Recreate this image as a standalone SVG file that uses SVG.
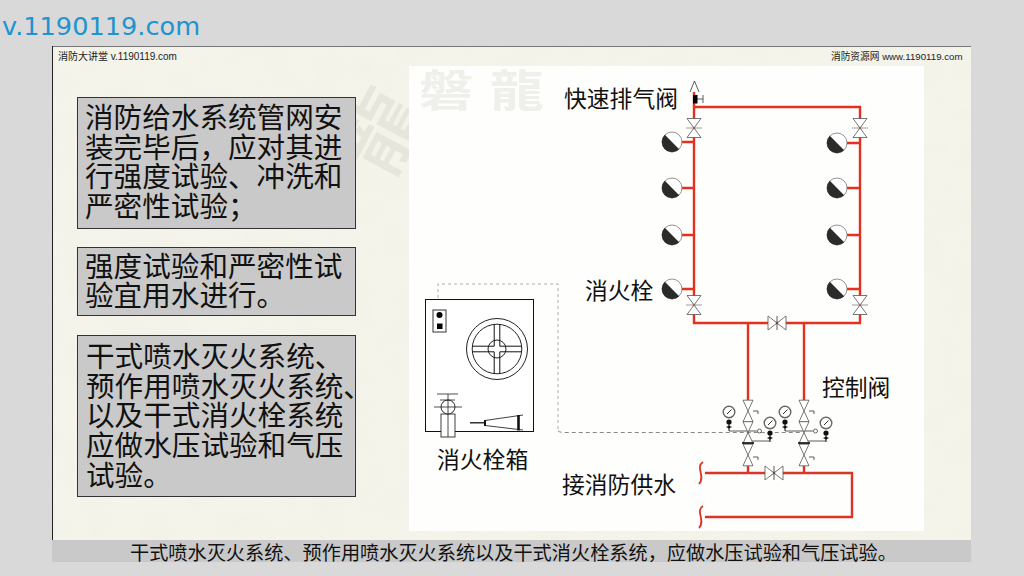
<svg xmlns="http://www.w3.org/2000/svg" width="1024" height="576" viewBox="0 0 1024 576">
<style>
text{font-family:"Liberation Sans","Noto Sans CJK SC",sans-serif;fill:#111}
.cjk{font-family:"Noto Sans CJK SC",sans-serif}
.box{fill:#c9c9c9;stroke:#333;stroke-width:1}
.t{font-size:28.6px}
.lab{font-size:22.8px}
.hdr{font-size:10px;fill:#222}
.pipe{fill:none;stroke:#e4301f;stroke-width:2.400}
.thin{fill:none;stroke:#333;stroke-width:.8}
.line{fill:none;stroke:#222;stroke-width:1}
.v{fill:#fff;stroke:#555;stroke-width:.8}
.dash{fill:none;stroke:#999;stroke-width:.8;stroke-dasharray:3 3}
.dash2{fill:none;stroke:#555;stroke-width:.7;stroke-dasharray:4 3}
.wm{font-family:"Noto Sans CJK SC",sans-serif;font-weight:700;fill:#efefec}
</style>
<defs>
<filter id="paper" x="0" y="0" width="100%" height="100%"><feTurbulence type="fractalNoise" baseFrequency="0.035" numOctaves="3" seed="4"/><feColorMatrix values="0 0 0 0 .8  0 0 0 0 .8  0 0 0 0 .74  .28 0 0 0 -.09"/><feComposite in2="SourceGraphic" operator="in"/><feMerge><feMergeNode in="SourceGraphic"/><feMergeNode/></feMerge></filter>
<g id="hyd"><circle r="10" fill="#fff" stroke="#777" stroke-width=".8"/><path d="M-7.200-7.200A10 10 0 1 0 7.200 7.200Z" fill="#2b2b2b"/></g>
<g id="vv"><path class="v" d="M-7-9.500H7L-7 9.500H7Z"/><path d="M-8 0H8" stroke="#888" stroke-width=".8"/></g>
<g id="vs"><path class="v" d="M-5-10.800H5L-5 10.800H5Z"/></g>
<g id="vh"><path class="v" d="M-9-7V7L9-7V7Z"/><path class="thin" d="M0-7V7"/></g>
<g id="g"><circle r="5.800" fill="#fff" stroke="#666" stroke-width="1.400"/><path d="M-2 2L2.500-2.500" stroke="#333" stroke-width="1"/></g>
<g id="dots"><circle r="2.600" fill="#111"/><circle cy="5" r="1.500" fill="#111"/><path d="M0 2V9M-2.500 5H2.500" stroke="#111" stroke-width="1"/></g>
<clipPath id="wmclip"><rect x="345" y="66" width="64" height="112"/></clipPath>
</defs>
<rect width="1024" height="576" fill="#d9d9d9"/>
<text x="2" y="34.500" style="font-family:'DejaVu Sans',sans-serif;font-size:25.600px;fill:#2193d0">v.1190119.com</text>
<g id="slide">
<rect x="52" y="46" width="919" height="516" fill="#f4f4eb" filter="url(#paper)"/>
<path d="M52 46.500H971" stroke="#777" stroke-width="1"/>
<path d="M52.500 46V562" stroke="#222" stroke-width="1"/>
<g clip-path="url(#wmclip)"><text class="wm" font-size="80" transform="rotate(-62 385 125)" x="338" y="155" style="fill:#e6e6dd;font-weight:500">龍</text></g>
<rect x="409" y="66" width="515" height="465" fill="#fefefc"/>
<text class="wm" font-size="54" transform="translate(419 107) scale(1 .82)">磐</text>
<text class="wm" font-size="54" transform="translate(490 107) scale(1 .82)">龍</text>
<rect x="52" y="540" width="919" height="22" fill="#c9c9c9"/>
<text class="hdr" x="58" y="59.500">消防大讲堂 v.1190119.com</text>
<text class="hdr" x="831" y="60" style="font-size:9.700px">消防资源网 www.1190119.com</text>
<text class="cjk" x="130" y="559.500" font-size="19.180">干式喷水灭火系统、预作用喷水灭火系统以及干式消火栓系统，应做水压试验和气压试验。</text>
</g>
<g id="note1"><rect class="box" x="77.500" y="97.500" width="278" height="131"/>
<text class="cjk t" x="85"><tspan x="85" y="128">消防给水系统管网安</tspan><tspan x="85" y="158">装完毕后，应对其进</tspan><tspan x="85" y="187">行强度试验、冲洗和</tspan><tspan x="85" y="217">严密性试验；</tspan></text></g>
<g id="note2"><rect class="box" x="77.500" y="247.500" width="278" height="68"/>
<text class="cjk t" x="85"><tspan x="85" y="277">强度试验和严密性试</tspan><tspan x="85" y="306">验宜用水进行。</tspan></text></g>
<g id="note3"><rect class="box" x="77.500" y="335.500" width="278" height="161"/>
<text class="cjk t" x="86"><tspan x="86" y="367">干式喷水灭火系统、</tspan><tspan x="86" y="397">预作用喷水灭火系统、</tspan><tspan x="86" y="426">以及干式消火栓系统</tspan><tspan x="86" y="456">应做水压试验和气压</tspan><tspan x="86" y="486">试验。</tspan></text></g>
<g id="connectors">
<path class="pipe" d="M694 92V323H860V107H694"/>
<path class="pipe" d="M748 323V400M804 323V400M748 466V473M804 466V473"/>
<path class="pipe" d="M705 473H852V517H705" style="stroke:#dc3526"/>
<path class="pipe" d="M681 142H694M681 188H694M681 235H694M681 289H694M847 143H860M847 188H860M847 235H860M847 289H860"/>
<path class="dash" d="M438 310V284H558V431"/>
<path class="dash2" d="M558 431Q560 432.500 565 432.500H800"/>
<path class="thin" d="M729 431H757M770 441H748M785 431H813M826 441H804"/>
</g>
<g id="air-valve"><path class="thin" d="M690 92L694.500 81L699 92M697 99H703M703 95V103"/><rect x="693" y="95" width="4.500" height="8.500" fill="#000"/></g>
<g id="hydrants-left"><use href="#hyd" x="672" y="142"/><use href="#hyd" x="672" y="188"/><use href="#hyd" x="672" y="235"/><use href="#hyd" x="672" y="289"/></g>
<g id="hydrants-right"><use href="#hyd" x="837" y="143"/><use href="#hyd" x="837" y="188"/><use href="#hyd" x="837" y="235"/><use href="#hyd" x="837" y="289"/></g>
<g id="valves"><use href="#vv" x="694" y="128"/><use href="#vv" x="860" y="128"/><use href="#vv" x="694" y="305"/><use href="#vv" x="860" y="305"/><use href="#vh" x="777" y="323"/><use href="#vh" x="774" y="473"/></g>
<g id="control-left"><use href="#vs" x="748" y="411"/><use href="#vs" x="748" y="432.500"/><use href="#vs" x="748" y="455"/><path d="M742 443H754" stroke="#111" stroke-width="1.600"/><path class="thin" d="M753 411H758V414M753 457H758V460"/><circle cx="759.500" cy="431" r="2" fill="#fff" stroke="#444" stroke-width=".8"/><use href="#g" x="729" y="412"/><use href="#dots" x="729" y="422"/><use href="#g" x="770" y="423"/><use href="#dots" x="770" y="433"/></g>
<g id="control-right"><use href="#vs" x="804" y="411"/><use href="#vs" x="804" y="432.500"/><use href="#vs" x="804" y="455"/><path d="M798 443H810" stroke="#111" stroke-width="1.600"/><path class="thin" d="M809 411H814V414M809 457H814V460"/><circle cx="815.500" cy="431" r="2" fill="#fff" stroke="#444" stroke-width=".8"/><use href="#g" x="785" y="412"/><use href="#dots" x="785" y="422"/><use href="#g" x="826" y="423"/><use href="#dots" x="826" y="433"/></g>
<g id="breaks"><path d="M703 462C695 467 706 477 699 484M703 506C695 511 706 521 699 528" fill="none" stroke="#dc3526" stroke-width="1.800"/></g>
<g id="cabinet">
<rect x="425.500" y="299.500" width="108" height="132" fill="#fff" stroke="#111" stroke-width="1"/>
<rect x="433" y="310" width="13" height="22" fill="#fff" stroke="#333" stroke-width="1"/>
<circle cx="439.500" cy="315" r="3" fill="#000"/><rect x="437" y="323.500" width="5.500" height="5.500" fill="#000"/>
<circle class="line" cx="497" cy="349" r="30.500"/><circle class="line" cx="497" cy="349" r="24.800"/><circle class="line" cx="497" cy="349" r="9"/>
<path d="M494.200 324.500V346.200H472.500M499.800 324.500V346.200H521.500M494.200 373.500V351.800H472.500M499.800 373.500V351.800H521.500" fill="none" stroke="#111" stroke-width="1"/>
<rect x="441" y="414" width="14" height="23" fill="#fff" stroke="#111" stroke-width=".8"/><circle cx="448" cy="407" r="7" fill="#fff" stroke="#111" stroke-width=".9"/>
<path class="line" d="M437 394H458M440 400H455M434 407H462M448 394V437" style="stroke-width:.8"/>
<path d="M485 420.500L523 415M485 425.500L523 430" fill="none" stroke="#111" stroke-width=".8"/>
<path d="M485 420V426" stroke="#111" stroke-width="2"/><path d="M518.500 415V430.500" stroke="#111" stroke-width="2.600"/><path d="M470 422.800H485" stroke="#111" stroke-width="1.300"/>
</g>
<g id="labels">
<text class="cjk lab" x="564" y="107">快速排气阀</text>
<text class="cjk lab" x="585" y="299">消火栓</text>
<text class="cjk lab" x="822" y="396">控制阀</text>
<text class="cjk lab" x="437" y="468">消火栓箱</text>
<text class="cjk lab" x="562" y="493">接消防供水</text>
</g>
</svg>
